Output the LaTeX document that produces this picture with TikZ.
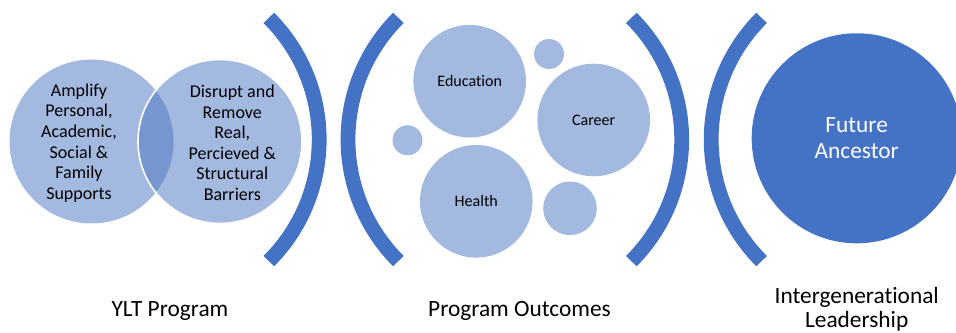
\documentclass[tikz,border=0pt]{standalone}
\usepackage{fontspec}
\setmainfont{Carlito}[Ligatures={TeX,NoCommon}]
\usepackage{xcolor}
\usepackage{tikz}

\definecolor{lightblue}{HTML}{A3B9E0}
\definecolor{midblue}{HTML}{7596CF}
\definecolor{darkblue}{HTML}{4472C4}

\begin{document}
\begin{tikzpicture}[x=0.025cm, y=0.025cm,
        bubble/.style={circle, fill=lightblue, inner sep=0pt, font=\fontsize{11.4}{13}\selectfont},
        venntext/.style={align=center, inner sep=0pt, font=\fontsize{12.8}{14.6}\selectfont},
        bracket/.style={draw=darkblue, line width=0.37cm},
        caption/.style={align=center, inner sep=0pt, font=\fontsize{16.6}{17.4}\selectfont}]

        % Area visibile
        \clip (0,0) rectangle (956,333);

        % Diagramma di Venn
        \fill[lightblue] (91.5,191.5) circle (82);
        \fill[lightblue] (220,191.5) circle (82);
        \begin{scope}
            \clip (91.5,191.5) circle (82);
            \fill[midblue] (220,191.5) circle (82);
        \end{scope}
        \draw[white, line width=0.04cm] (220,191.5) circle (82);
        \node[venntext] (amplify) at (79,190) {Amplify\\Personal,\\Academic,\\Social \&\\Family\\Supports};
        \node[venntext] (disrupt) at (232.3,190) {Disrupt and\\Remove\\Real,\\Percieved \&\\Structural\\Barriers};

        % Parentesi
        \foreach \cx/\sa in {147.2/-45, 520/135, 509.7/-45, 883.2/135} {
            \draw[bracket] (\cx,193.5) ++(\sa:172) arc[start angle=\sa, delta angle=90, radius=172];
        }

        % Risultati del programma
        \node[bubble, minimum size=2.815cm] (education) at (469.7,251.8) {Education};
        \node[bubble, minimum size=2.815cm] (career) at (593.7,213) {Career};
        \node[bubble, minimum size=2.815cm] (health) at (476.3,131.7) {Health};
        \node[bubble, minimum size=0.75cm] (dottop) at (549,279) {};
        \node[bubble, minimum size=0.75cm] (dotleft) at (407.5,192.7) {};
        \node[bubble, minimum size=1.34cm] (dotright) at (570,124.7) {};

        % Leadership
        \node[circle, fill=darkblue, text=white, inner sep=0pt, minimum size=5.25cm, align=center,
              font=\fontsize{16.6}{18.3}\selectfont] (future) at (856.7,194.7) {Future\\Ancestor};

        % Didascalie
        \node[caption, anchor=base] (ylt) at (170,16) {YLT Program};
        \node[caption, anchor=base] (outcomes) at (519.5,16) {Program Outcomes};
        \node[caption] (intergen) at (856.7,23.5) {Intergenerational\\Leadership};
\end{tikzpicture}
\end{document}
